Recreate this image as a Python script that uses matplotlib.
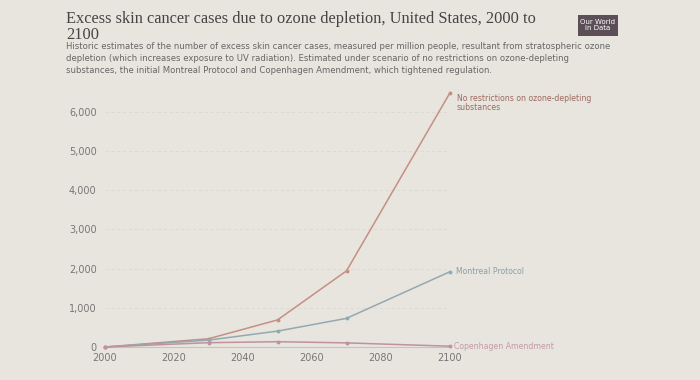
import matplotlib
matplotlib.use("Agg")
import matplotlib.pyplot as plt
from matplotlib.patches import FancyBboxPatch

years = [2000, 2030, 2050, 2070, 2100]
no_restrictions = [0, 210, 690, 1940, 6480]
montreal = [0, 175, 405, 730, 1920]
copenhagen = [0, 110, 135, 105, 20]

series_names = ["No restrictions on ozone-depleting\nsubstances", "Montreal Protocol", "Copenhagen Amendment"]
series_colors = ["#c48f84", "#93a9b1", "#bf929d"]
label_colors = ["#9c6a60", "#8aa0a8", "#c49ba5"]

yticks = [0, 1000, 2000, 3000, 4000, 5000, 6000]
xticks = [2000, 2020, 2040, 2060, 2080, 2100]

title = "Excess skin cancer cases due to ozone depletion, United States, 2000 to\n2100"
subtitle = ("Historic estimates of the number of excess skin cancer cases, measured per million people, resultant from stratospheric ozone\n"
            "depletion (which increases exposure to UV radiation). Estimated under scenario of no restrictions on ozone-depleting\n"
            "substances, the initial Montreal Protocol and Copenhagen Amendment, which tightened regulation.")

bg = "#e7e5de"
W, H = 700, 380
fig = plt.figure(figsize=(7, 3.8), dpi=100, facecolor=bg)

ax = fig.add_axes([105 / W, 1 - 347 / H, (450 - 105) / W, (347 - 92) / H])
ax.set_facecolor(bg)

for vals, c in zip([no_restrictions, montreal, copenhagen], series_colors):
    ax.plot(years, vals, color=c, lw=1.1, marker="o", ms=1.8, zorder=3, clip_on=False)

ax.set_xlim(2000, 2100)
ax.set_ylim(0, 6500)
ax.set_yticks(yticks)
ax.set_yticklabels([f"{v:,}" for v in yticks])
ax.set_xticks(xticks)
ax.set_xticklabels([str(v) for v in xticks])
ax.tick_params(axis="both", length=0, labelsize=7, colors="#777777")
ax.tick_params(axis="y", pad=6)
ax.tick_params(axis="x", pad=4)
ax.grid(axis="y", color="#dad8d1", lw=0.6, ls=(0, (4, 3)))
for s in ["top", "right", "left"]:
    ax.spines[s].set_visible(False)
ax.spines["bottom"].set_color("#c6c4bd")
ax.spines["bottom"].set_linewidth(0.8)

# end labels
finals = [no_restrictions[-1], montreal[-1], copenhagen[-1]]
offsets = [(5, -1), (4, 0), (3, 0)]
vas = ["top", "center", "center"]
for name, v, lc, off, va in zip(series_names, finals, label_colors, offsets, vas):
    ax.annotate(name, xy=(years[-1], v), xytext=off, textcoords="offset points",
                fontsize=5.6, color=lc, va=va, ha="left", linespacing=1.0, annotation_clip=False)

fig.text(66 / W, 1 - 11 / H, title, fontsize=11.8, family="Liberation Serif",
         color="#444444", va="top", ha="left", linespacing=1.0)
fig.text(66 / W, 1 - 42 / H, subtitle, fontsize=6.1, color="#666666",
         va="top", ha="left", linespacing=1.4)

# logo
logo = FancyBboxPatch((578 / W, 1 - 36 / H), 40 / W, 21 / H, boxstyle="square,pad=0",
                      transform=fig.transFigure, facecolor="#5b4e57", edgecolor="none")
fig.patches.append(logo)
fig.text(598 / W, 1 - 25.5 / H, "Our World\nin Data", fontsize=5, color="white",
         ha="center", va="center", linespacing=1.0)

fig.savefig("out.png", dpi=100, facecolor=bg)
